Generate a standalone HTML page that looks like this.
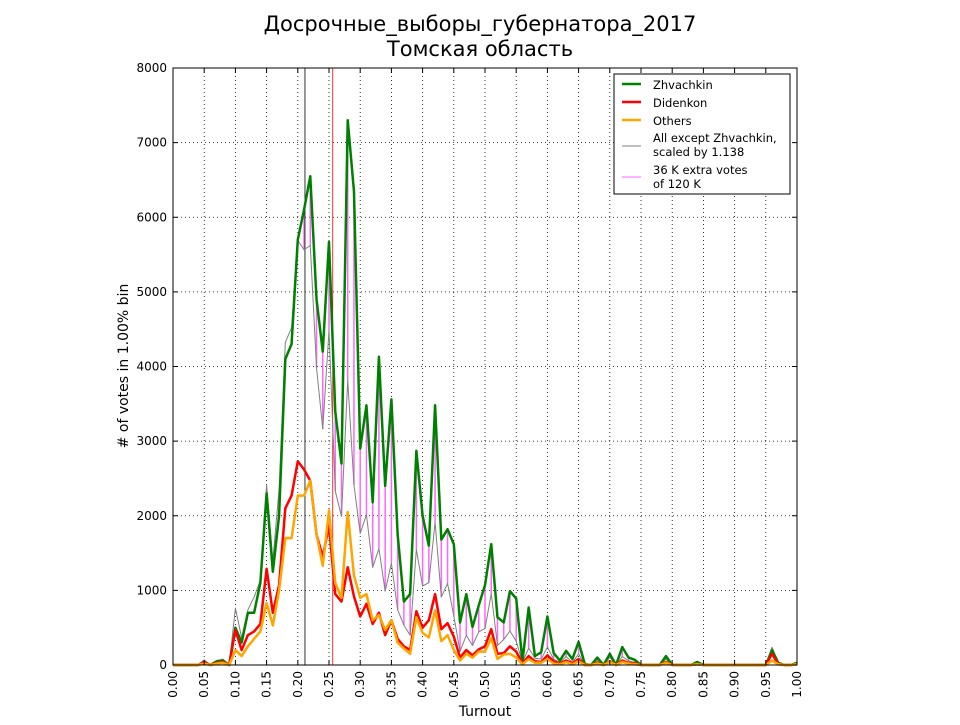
<!DOCTYPE html>
<html><head><meta charset="utf-8"><style>
body{margin:0;background:#fff;}
svg{font-family:"DejaVu Sans","Liberation Sans",sans-serif;}
</style></head><body>
<svg id="c" width="960" height="720" xmlns="http://www.w3.org/2000/svg">
<text x="480" y="31" font-size="21" text-anchor="middle">Досрочные_выборы_губернатора_2017</text>
<text x="480" y="56" font-size="21" text-anchor="middle">Томская область</text>
<g id="grid"></g><g id="marks"></g><g id="axes"></g>
<text x="485" y="716" font-size="14" text-anchor="middle">Turnout</text>
<text transform="translate(128,366) rotate(-90)" font-size="14" text-anchor="middle"># of votes in 1.00% bin</text>
<g>
<rect x="614" y="74" width="176" height="120" fill="#fff" stroke="#000" stroke-width="1"/>
<line x1="622" y1="84" x2="641" y2="84" stroke="#008000" stroke-width="2.5"/>
<text x="653" y="89" font-size="11.5">Zhvachkin</text>
<line x1="622" y1="102" x2="641" y2="102" stroke="#ff0000" stroke-width="2.5"/>
<text x="653" y="107" font-size="11.5">Didenkon</text>
<line x1="622" y1="120" x2="641" y2="120" stroke="#ffa500" stroke-width="2.5"/>
<text x="653" y="125" font-size="11.5">Others</text>
<line x1="622" y1="146" x2="641" y2="146" stroke="#808080" stroke-width="1"/>
<text x="653" y="142" font-size="11.5">All except Zhvachkin,</text>
<text x="653" y="156" font-size="11.5">scaled by 1.138</text>
<line x1="622" y1="177" x2="641" y2="177" stroke="#ff66ff" stroke-width="1"/>
<text x="653" y="174" font-size="11.5">36 K extra votes</text>
<text x="653" y="188" font-size="11.5"> of 120 K</text>
</g>
</svg>
<script>
const green=[0,0,0,0,0,30,0,50,60,0,500,300,700,700,1100,2300,1250,2000,4100,4300,5700,6100,6550,4900,4200,5670,3400,2700,7300,6350,2900,3480,2180,4130,2400,3560,1750,850,950,2870,2000,1600,3480,1680,1820,1620,570,950,510,800,1070,1620,640,570,990,890,50,770,120,170,650,160,60,190,80,310,10,0,100,0,150,0,240,100,70,0,0,0,0,120,0,0,0,0,40,0,0,0,0,0,0,0,0,0,0,0,200,30,0,0,30];
const red=[0,0,0,0,0,40,0,30,40,0,470,200,400,450,550,1290,700,1070,2100,2270,2730,2620,2470,1750,1450,1870,950,850,1310,920,650,820,550,700,400,600,350,250,200,720,500,600,950,480,560,380,100,200,130,210,250,480,150,160,250,180,20,120,50,40,130,50,20,60,20,80,0,0,30,0,50,0,60,30,20,0,0,0,0,40,0,0,0,0,10,0,0,0,0,0,0,0,0,0,0,0,150,10,0,0,10];
const others=[0,0,0,0,0,20,0,20,30,0,200,120,250,350,450,830,530,1000,1700,1700,2270,2270,2470,1750,1330,2070,1100,900,2050,1200,900,950,600,670,470,600,300,220,150,640,430,370,730,320,400,200,60,150,100,180,180,360,80,140,150,100,10,80,30,30,80,20,10,40,10,50,0,0,20,0,40,0,40,20,10,0,0,0,0,30,0,0,0,0,10,0,0,0,0,0,0,0,0,0,0,0,60,10,0,0,10];
const scale=1.138;
const xTicks=["0.00","0.05","0.10","0.15","0.20","0.25","0.30","0.35","0.40","0.45","0.50","0.55","0.60","0.65","0.70","0.75","0.80","0.85","0.90","0.95","1.00"];
const yTicks=[0,1000,2000,3000,4000,5000,6000,7000,8000];
const vlines=[0.2115,0.256];
const X0=173,X1=797,Y0=665,Y1=68;
const xs=v=>X0+(X1-X0)*v, ys=v=>Y0-(Y0-Y1)*v/8000;
const NS="http://www.w3.org/2000/svg";
function mk(p,t,a){const e=document.createElementNS(NS,t);for(const k in a)e.setAttribute(k,a[k]);p.appendChild(e);return e;}
const G=document.getElementById('grid'),M=document.getElementById('marks'),A=document.getElementById('axes');
xTicks.forEach(t=>{const x=xs(parseFloat(t));
 const l=mk(G,'line',{x1:x,x2:x,y1:Y1,y2:Y0,stroke:'#000','stroke-dasharray':'1,3','stroke-width':0.8});
 
 mk(A,'line',{x1:x,x2:x,y1:Y0,y2:Y0-5,stroke:'#000'});mk(A,'line',{x1:x,x2:x,y1:Y1,y2:Y1+5,stroke:'#000'});
 const tx=mk(A,'text',{transform:`translate(${x+4},${Y0+6}) rotate(-90)`,'font-size':12,'text-anchor':'end'});tx.textContent=t;
 });
yTicks.forEach(t=>{const y=ys(t);
 const l=mk(G,'line',{x1:X0,x2:X1,y1:y,y2:y,stroke:'#000','stroke-dasharray':'1,3','stroke-width':0.8});
 
 mk(A,'line',{x1:X0,x2:X0+5,y1:y,y2:y,stroke:'#000'});mk(A,'line',{x1:X1,x2:X1-5,y1:y,y2:y,stroke:'#000'});
 const tx=mk(A,'text',{x:X0-6,y:y+4,'font-size':12,'text-anchor':'end'});tx.textContent=t;
 });
const fr=mk(A,'rect',{x:X0,y:Y1,width:X1-X0,height:Y0-Y1,fill:'none',stroke:'#000','stroke-width':1});

const gray=red.map((r,i)=>(r+others[i])*scale);
const n=green.length,bx=i=>xs(i/(n-1));
green.forEach((g,i)=>{if(g>gray[i]){const l=mk(M,'line',{x1:bx(i),x2:bx(i),y1:ys(gray[i]),y2:ys(g),stroke:'#ff66ff','stroke-width':1.5});
 }});
vlines.forEach((v,k)=>{const l=mk(M,'line',{x1:xs(v),x2:xs(v),y1:Y1,y2:Y0,stroke:k?'#ff0000':'#000','stroke-width':0.8});
 });
function line(d,c,w,name){const p=mk(M,'polyline',{points:d.map((v,i)=>bx(i)+','+ys(v)).join(' '),fill:'none',stroke:c,'stroke-width':w,'stroke-linejoin':'round'});
 }
line(gray,'#808080',1,'all-except-line');
line(green,'#008000',2.5,'zhvachkin-line');
line(red,'#ff0000',2.5,'didenkon-line');
line(others,'#ffa500',2.5,'others-line');
</script>
</body></html>
